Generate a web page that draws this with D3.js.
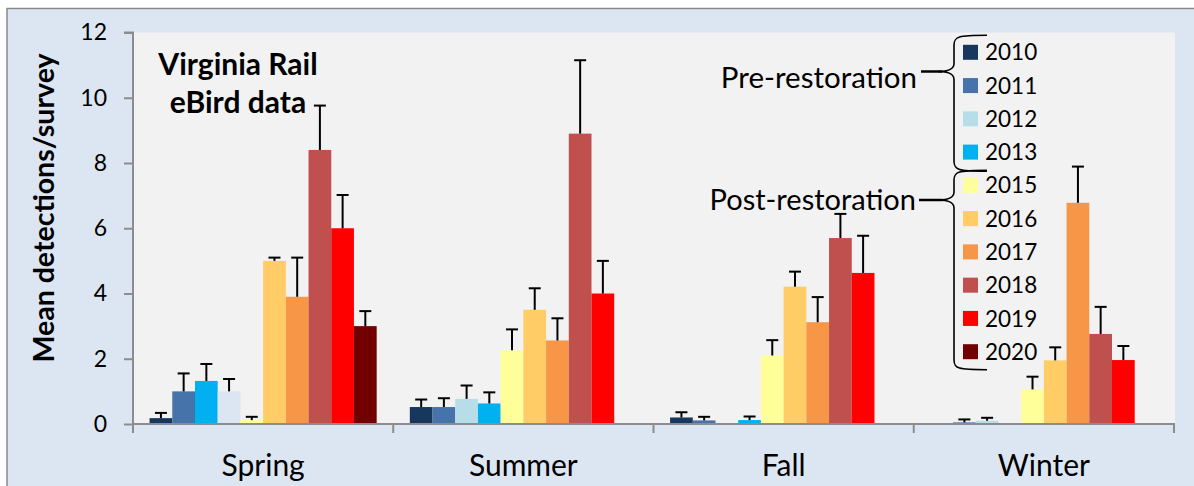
<!DOCTYPE html>
<html>
<head>
<meta charset="utf-8">
<script src="https://cdn.jsdelivr.net/npm/d3@7"></script>
<style>
  html, body { margin: 0; padding: 0; background: #ffffff; }
  svg { display: block; }
  text { font-family: Lato, "Noto Sans", sans-serif; fill: #000; }
</style>
</head>
<body>
<svg id="chart" width="1194" height="486"></svg>
<script>
// ---------- data ----------
const seasons = ["Spring", "Summer", "Fall", "Winter"];
const years = ["2010", "2011", "2012", "2013", "2015", "2016", "2017", "2018", "2019", "2020"];
// mean detections per survey, one array per year (order = seasons)
const v2010 = [0.18, 0.52, 0.20, 0];
const v2011 = [1.00, 0.52, 0.11, 0.05];
const v2012 = [1.32, 0.77, 0, 0.10];
const v2013 = [1.00, 0.63, 0.12, 0];
const v2015 = [0.12, 2.26, 2.10, 1.06];
const v2016 = [5.00, 3.50, 4.21, 1.95];
const v2017 = [3.90, 2.56, 3.12, 6.78];
const v2018 = [8.40, 8.90, 5.70, 2.76];
const v2019 = [6.00, 4.00, 4.63, 1.96];
const v2020 = [3.00, null, null, null];
// upper error (SE) per year
const e2010 = [0.16, 0.23, 0.16, 0];
const e2011 = [0.55, 0.27, 0.11, 0.09];
const e2012 = [0.52, 0.41, 0, 0.09];
const e2013 = [0.38, 0.34, 0.11, 0];
const e2015 = [0.10, 0.64, 0.47, 0.39];
const e2016 = [0.10, 0.66, 0.46, 0.40];
const e2017 = [1.20, 0.68, 0.77, 1.11];
const e2018 = [1.36, 2.25, 0.74, 0.83];
const e2019 = [1.02, 1.00, 1.14, 0.43];
const e2020 = [0.46, null, null, null];
const yTicks = [0, 2, 4, 6, 8, 10, 12];
const preYears = ["2010", "2011", "2012", "2013"];
const postYears = ["2015", "2016", "2017", "2018", "2019", "2020"];

const values = [v2010, v2011, v2012, v2013, v2015, v2016, v2017, v2018, v2019, v2020];
const errors = [e2010, e2011, e2012, e2013, e2015, e2016, e2017, e2018, e2019, e2020];

// ---------- styles ----------
const colors = ["#17375e", "#4673a9", "#b7dee8", "#00b0f0", "#ffff99", "#ffcc66", "#f79646", "#c0504d", "#ff0000", "#720000"];
// Spring bars of 2012/2013 are drawn with different fills in the original
const fillOverride = { "Spring|2012": "#00b0f0", "Spring|2013": "#dce6f2" };

const svg = d3.select("#chart");
const W = 1194, H = 486;
const plot = { left: 133, right: 1174, top: 32.5, bottom: 424 };

// backgrounds
svg.append("rect").attr("x", 0).attr("y", 0).attr("width", W).attr("height", H).attr("fill", "#ffffff");
svg.append("rect").attr("x", 7).attr("y", 8.5).attr("width", W - 7 + 2).attr("height", H)
  .attr("fill", "#dce6f2").attr("stroke", "#8a8a8a").attr("stroke-width", 1.5);
svg.append("rect").attr("x", plot.left).attr("y", plot.top).attr("width", 1175 - plot.left)
  .attr("height", plot.bottom - plot.top).attr("fill", "#f2f2f2");

// scales
const x = d3.scaleBand().domain(seasons).range([plot.left, plot.right]).padding(0);
const xi = d3.scaleBand().domain(years).range([0, x.bandwidth()]).paddingInner(0).paddingOuter(0.73);
const y = d3.scaleLinear().domain([0, 12]).range([plot.bottom, plot.top]);

// bars
const rows = [];
years.forEach((yr, i) => {
  seasons.forEach((s, j) => {
    const v = values[i][j];
    if (v === null || v === undefined) return;
    rows.push({ season: s, year: yr, value: v, err: errors[i][j], color: fillOverride[s + "|" + yr] || colors[i] });
  });
});

const g = svg.append("g");
g.selectAll("rect.bar").data(rows).join("rect")
  .attr("class", "bar")
  .attr("x", d => x(d.season) + xi(d.year))
  .attr("width", xi.bandwidth())
  .attr("y", d => y(d.value))
  .attr("height", d => y(0) - y(d.value))
  .attr("fill", d => d.color);

// error bars (upper only)
const eb = rows.filter(d => d.err > 0);
const capW = 12;
g.selectAll("line.err").data(eb).join("line")
  .attr("x1", d => x(d.season) + xi(d.year) + xi.bandwidth() / 2)
  .attr("x2", d => x(d.season) + xi(d.year) + xi.bandwidth() / 2)
  .attr("y1", d => y(d.value))
  .attr("y2", d => y(d.value + d.err))
  .attr("stroke", "#000").attr("stroke-width", 2);
g.selectAll("line.cap").data(eb).join("line")
  .attr("x1", d => x(d.season) + xi(d.year) + xi.bandwidth() / 2 - capW / 2)
  .attr("x2", d => x(d.season) + xi(d.year) + xi.bandwidth() / 2 + capW / 2)
  .attr("y1", d => y(d.value + d.err))
  .attr("y2", d => y(d.value + d.err))
  .attr("stroke", "#000").attr("stroke-width", 2);

// y axis
const yAxis = d3.axisLeft(y).tickValues(yTicks).tickSize(9).tickPadding(17).tickFormat(d3.format("d"));
const ya = svg.append("g").attr("transform", `translate(${plot.left},0)`).call(yAxis);
ya.select(".domain").attr("stroke", "#8c8c8c").attr("stroke-width", 2).attr("d", `M-9,${plot.top}H0V${plot.bottom}`);
ya.selectAll(".tick line").attr("stroke", "#8c8c8c").attr("stroke-width", 2);
ya.selectAll(".tick text").style("font-family", "Lato").style("font-size", "23px").attr("fill", "#000");

// x axis
const bounds = seasons.map(s => x(s)).concat([x(seasons[seasons.length - 1]) + x.bandwidth()]);
svg.append("line").attr("x1", plot.left).attr("x2", plot.right + 1).attr("y1", plot.bottom).attr("y2", plot.bottom)
  .attr("stroke", "#8c8c8c").attr("stroke-width", 2);
svg.selectAll("line.xt").data(bounds).join("line")
  .attr("x1", d => d).attr("x2", d => d).attr("y1", plot.bottom).attr("y2", plot.bottom + 9)
  .attr("stroke", "#8c8c8c").attr("stroke-width", 2);
svg.selectAll("text.cat").data(seasons).join("text")
  .attr("x", d => x(d) + x.bandwidth() / 2).attr("y", 476)
  .attr("text-anchor", "middle").style("font-size", "30px").text(d => d);

// y axis title
svg.append("text").attr("transform", "translate(54,208) rotate(-90)")
  .attr("text-anchor", "middle").style("font-size", "28.5px").style("font-weight", "bold")
  .text("Mean detections/survey");

// chart title
svg.append("text").attr("x", 238).attr("y", 75).attr("text-anchor", "middle")
  .style("font-size", "30px").style("font-weight", "bold").text("Virginia Rail");
svg.append("text").attr("x", 238).attr("y", 113).attr("text-anchor", "middle")
  .style("font-size", "30px").style("font-weight", "bold").text("eBird data");

// legend
const lg = svg.append("g");
const rowY = d3.scalePoint().domain(years).range([52.3, 351.7]);
years.forEach((yr, i) => {
  lg.append("rect").attr("x", 963).attr("y", rowY(yr) - 7.5).attr("width", 15).attr("height", 15).attr("fill", colors[i]);
  lg.append("text").attr("x", 985).attr("y", rowY(yr)).attr("dy", "0.36em").style("font-size", "22.5px").text(yr);
});

// braces
function brace(top, tip, bottom) {
  const vx = 954, ex = 987, tx = 938;
  return `M${ex},${top} C${vx + 4},${top} ${vx},${top + 1} ${vx},${top + 10} L${vx},${tip - 8} C${vx},${tip - 2} ${vx - 6},${tip} ${tx},${tip}` +
         ` C${vx - 6},${tip} ${vx},${tip + 2} ${vx},${tip + 8} L${vx},${bottom - 10} C${vx},${bottom - 1} ${vx + 4},${bottom} ${ex},${bottom}`;
}
const preTop = rowY(preYears[0]) - 17, preBot = rowY(preYears[preYears.length - 1]) + 19;
const postTop = rowY(postYears[0]) - 15, postBot = rowY(postYears[postYears.length - 1]) + 18;
svg.append("path").attr("d", brace(preTop, 71.5, preBot)).attr("fill", "none").attr("stroke", "#000").attr("stroke-width", 1.6);
svg.append("path").attr("d", brace(postTop, 200, postBot)).attr("fill", "none").attr("stroke", "#000").attr("stroke-width", 1.6);
svg.append("line").attr("x1", 921).attr("x2", 942).attr("y1", 71.5).attr("y2", 71.5).attr("stroke", "#000").attr("stroke-width", 2.5);
svg.append("line").attr("x1", 919).attr("x2", 942).attr("y1", 200).attr("y2", 200).attr("stroke", "#000").attr("stroke-width", 2.5);

svg.append("text").attr("x", 917).attr("y", 88).attr("text-anchor", "end").style("font-size", "29.5px").text("Pre-restoration");
svg.append("text").attr("x", 916).attr("y", 210).attr("text-anchor", "end").style("font-size", "29px").text("Post-restoration");
</script>
</body>
</html>
